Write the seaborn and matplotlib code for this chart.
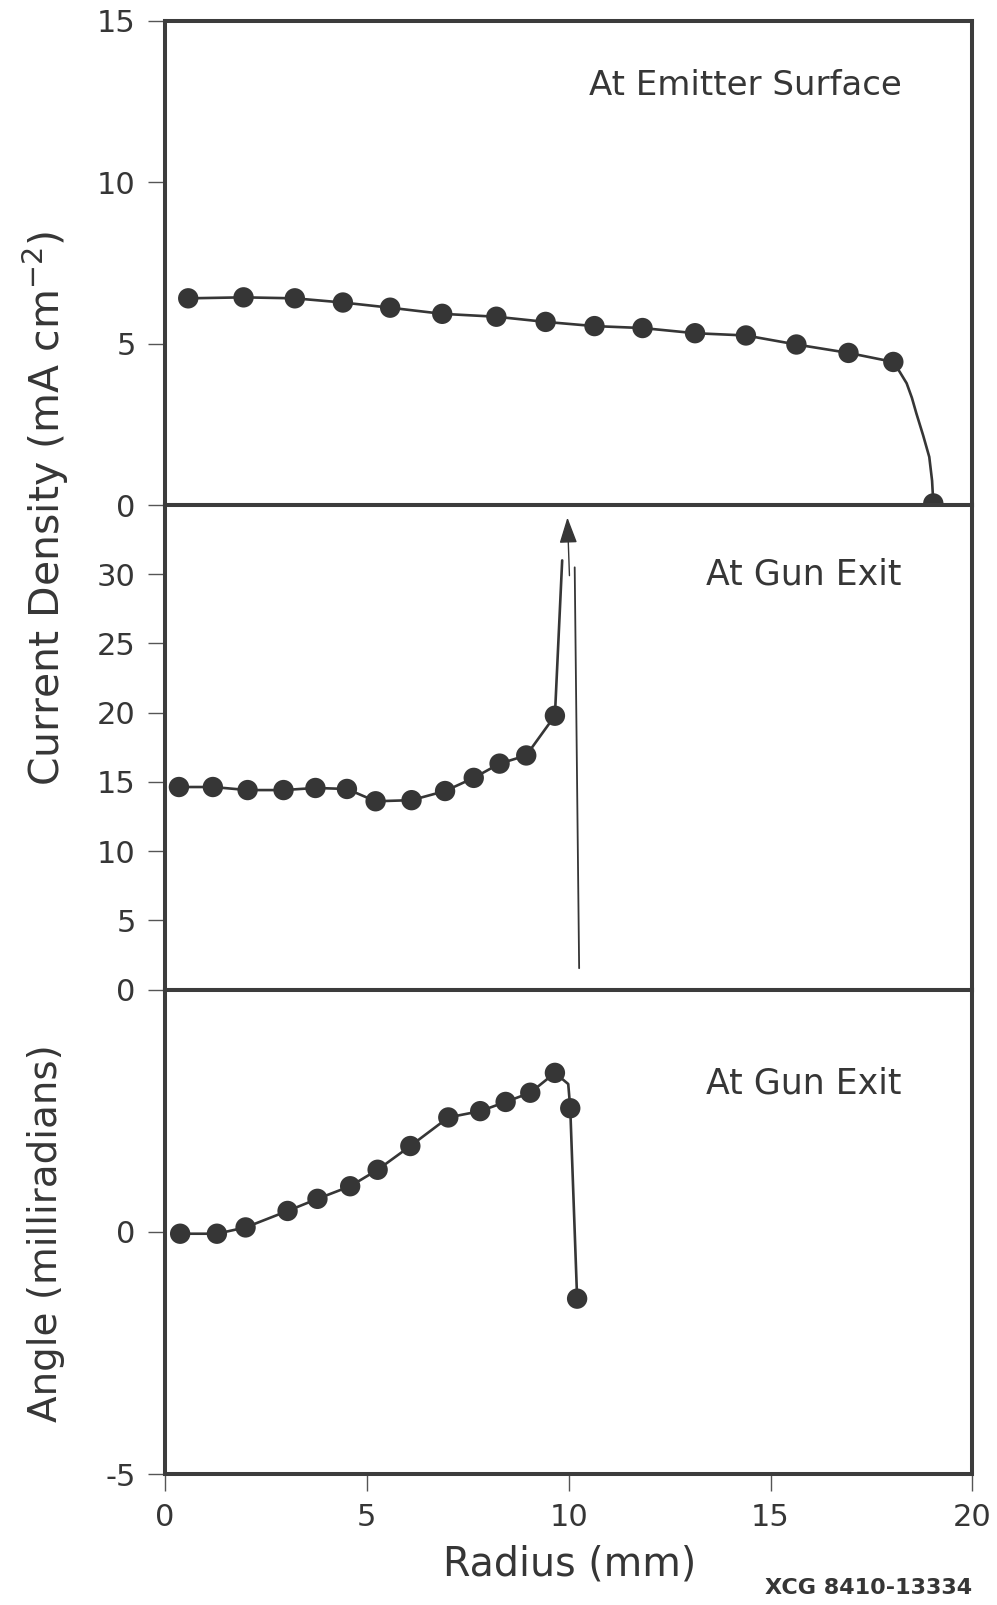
import matplotlib
matplotlib.use("Agg")
import matplotlib.pyplot as plt
import seaborn as sns
from matplotlib.patches import FancyArrowPatch

# --- current density at the emitter surface (mA cm^-2) vs radius (mm)
emit_r = [0.58, 1.95, 3.22, 4.41, 5.58, 6.87, 8.21, 9.43, 10.64, 11.83,
          13.13, 14.39, 15.64, 16.93, 18.04, 19.03]
emit_j = [6.40, 6.43, 6.40, 6.27, 6.11, 5.92, 5.83, 5.67, 5.54, 5.48,
          5.32, 5.25, 4.97, 4.71, 4.43, 0.05]
# roll-off of the curve at the emitter edge
emit_edge_r = [18.04, 18.20, 18.37, 18.50, 18.61, 18.78, 18.93, 19.00, 19.03]
emit_edge_j = [4.43, 4.12, 3.77, 3.32, 2.84, 2.15, 1.49, 0.75, 0.05]

# --- current density at the gun exit
exit_r = [0.35, 1.19, 2.05, 2.94, 3.73, 4.51, 5.22, 6.11, 6.94, 7.65,
          8.29, 8.95, 9.66]
exit_j = [14.63, 14.63, 14.41, 14.41, 14.56, 14.49, 13.60, 13.68, 14.34,
          15.29, 16.32, 16.91, 19.78]
exit_spike_r = [9.66, 9.84]
exit_spike_j = [19.78, 31.0]
exit_arrow_r = [10.02, 9.97]
exit_arrow_j = [29.9, 34.1]
exit_edge_r = [10.15, 10.26]
exit_edge_j = [30.5, 1.54]

# --- beam angle at the gun exit (milliradians)
angle_r = [0.38, 1.29, 2.00, 3.04, 3.78, 4.59, 5.27, 6.08, 7.02, 7.81,
           8.44, 9.05, 9.66, 10.04, 10.21]
angle_mrad = [-0.04, -0.04, 0.09, 0.43, 0.68, 0.94, 1.28, 1.77, 2.36, 2.49,
              2.68, 2.87, 3.28, 2.55, -1.38]
angle_turn_r = [9.99]
angle_turn_mrad = [3.05]

x_ticks = [0, 5, 10, 15, 20]
emit_ticks = [0, 5, 10, 15]
exit_ticks = [0, 5, 10, 15, 20, 25, 30]
angle_ticks = [-5, 0]

INK = "#363636"
FONT = ["DejaVu Sans"]

sns.set_theme(style="white")
plt.rcParams["font.family"] = FONT
plt.rcParams["mathtext.fontset"] = "dejavusans"
plt.rcParams["axes.unicode_minus"] = False

fig, (ax1, ax2, ax3) = plt.subplots(3, 1, sharex=True, figsize=(9.97, 16.05), dpi=100)
fig.subplots_adjust(left=0.1653, right=0.9754, top=0.9872, bottom=0.0816, hspace=0)

LW = 1.9
MS = 215


def dots(ax, x, y):
    sns.scatterplot(x=x, y=y, ax=ax, s=MS, color=INK, edgecolor="none",
                    linewidth=0, zorder=4, legend=False)


def trace(ax, x, y, lw=LW):
    sns.lineplot(x=x, y=y, ax=ax, sort=False, estimator=None, color=INK,
                 linewidth=lw, zorder=3, legend=False)


# top panel
trace(ax1, emit_r[:-1], emit_j[:-1])
trace(ax1, emit_edge_r, emit_edge_j)
dots(ax1, emit_r, emit_j)

# middle panel
trace(ax2, exit_r + exit_spike_r[1:], exit_j + exit_spike_j[1:])
dots(ax2, exit_r, exit_j)
trace(ax2, exit_edge_r, exit_edge_j, lw=1.3)
ax2.add_patch(FancyArrowPatch((exit_arrow_r[0], exit_arrow_j[0]),
                              (exit_arrow_r[1], exit_arrow_j[1]),
                              arrowstyle="-|>,head_length=1.6,head_width=0.55",
                              mutation_scale=10, color=INK, linewidth=1.0,
                              shrinkA=0, shrinkB=0, zorder=3))

# bottom panel
line_r = angle_r[:13] + angle_turn_r + angle_r[13:]
line_a = angle_mrad[:13] + angle_turn_mrad + angle_mrad[13:]
trace(ax3, line_r, line_a)
dots(ax3, angle_r, angle_mrad)

ax1.set_ylim(0, 15)
ax2.set_ylim(0, 35)
ax3.set_ylim(-5, 5)
ax3.set_xlim(0, 20)
ax1.set_yticks(emit_ticks)
ax2.set_yticks(exit_ticks)
ax3.set_yticks(angle_ticks)
ax3.set_xticks(x_ticks)

for ax in (ax1, ax2, ax3):
    ax.set_xlabel("")
    ax.set_ylabel("")
    for sp in ax.spines.values():
        sp.set_visible(True)
        sp.set_color("#3c3c3c")
        sp.set_linewidth(2.9)
    ax.tick_params(axis="both", direction="out", length=12, width=1.0,
                   color="#555555", pad=9, labelsize=22, labelcolor=INK,
                   left=True, bottom=True)
for ax in (ax1, ax2):
    ax.tick_params(axis="x", bottom=False, labelbottom=False)

ax1.text(18.25, 13.0, "At Emitter Surface", ha="right", va="center",
         fontsize=24.5, color=INK)
ax2.text(18.25, 30.0, "At Gun Exit", ha="right", va="center",
         fontsize=25, color=INK)
ax3.text(18.25, 3.06, "At Gun Exit", ha="right", va="center",
         fontsize=25, color=INK)

fig.text(0.046, 0.683, "Current Density (mA cm$^{-2}$)", rotation=90,
         ha="center", va="center", fontsize=29.5, color=INK)
fig.text(0.046, 0.232, "Angle (milliradians)", rotation=90,
         ha="center", va="center", fontsize=28, color=INK)
fig.text(0.571, 0.0255, "Radius (mm)", ha="center", va="center",
         fontsize=28.5, color=INK)
fig.text(0.975, 0.0105, "XCG 8410-13334", ha="right", va="center",
         fontsize=16, fontweight="bold", color=INK)

fig.savefig("out.png", dpi=100)
